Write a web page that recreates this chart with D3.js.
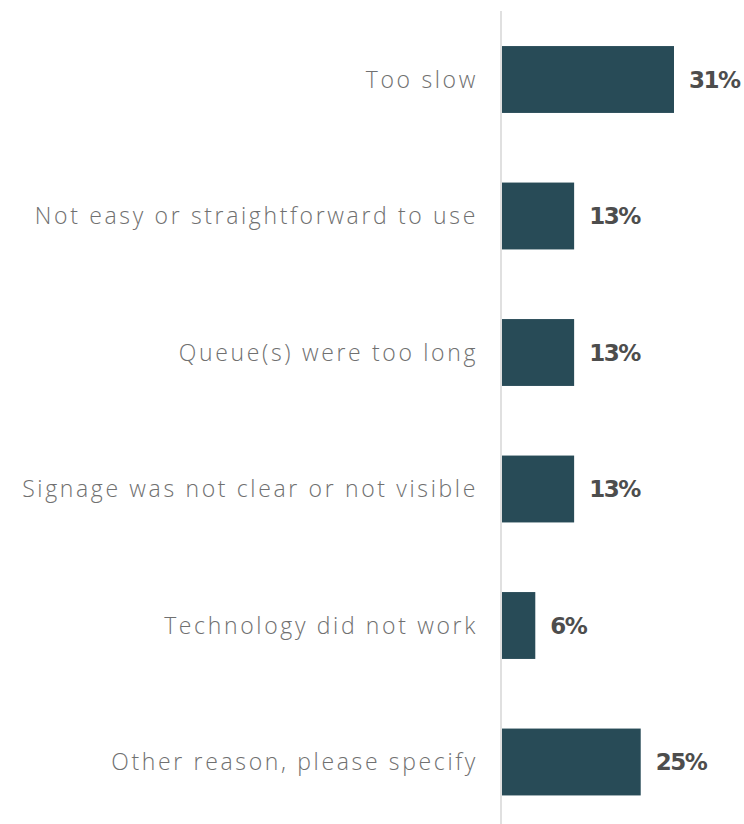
<!DOCTYPE html>
<html>
<head>
<meta charset="utf-8">
<script src="https://cdn.jsdelivr.net/npm/d3@7"></script>
<style>
  html, body { margin: 0; padding: 0; background: #fff; }
  svg { display: block; }
</style>
</head>
<body>
<div id="chart"></div>
<script>
// Reasons given, with the share of respondents (%)
const categories = [
  "Too slow",
  "Not easy or straightforward to use",
  "Queue(s) were too long",
  "Signage was not clear or not visible",
  "Technology did not work",
  "Other reason, please specify"
];
const values = [31, 13, 13, 13, 6, 25];
const valueLabels = ["31%", "13%", "13%", "13%", "6%", "25%"];

const width = 744, height = 824;
const axisX = 502;

const svg = d3.select("#chart").append("svg")
  .attr("width", width)
  .attr("height", height);

const y = d3.scaleBand()
  .domain(categories)
  .range([11.25, 11.25 + 136.5 * categories.length])
  .paddingInner(0.51)
  .paddingOuter(0.255);

const x = d3.scaleLinear()
  .domain([0, 31])
  .range([axisX, 674]);

// vertical baseline
svg.append("line")
  .attr("x1", axisX - 1).attr("x2", axisX - 1)
  .attr("y1", 11).attr("y2", height)
  .attr("stroke", "#e0e0e0")
  .attr("stroke-width", 2);

const rows = svg.selectAll("g.row")
  .data(categories.map((c, i) => ({ c, v: values[i], l: valueLabels[i] })))
  .join("g")
  .attr("class", "row");

rows.append("rect")
  .attr("x", x(0))
  .attr("y", d => y(d.c))
  .attr("width", d => x(d.v) - x(0))
  .attr("height", y.bandwidth())
  .attr("fill", "#284b57");

// category labels (letter-spacing leaves a trailing gap, hence the offset)
rows.append("text")
  .attr("x", axisX - 24)
  .attr("y", d => y(d.c) + y.bandwidth() / 2)
  .attr("dy", "0.36em")
  .attr("text-anchor", "end")
  .attr("font-family", "'Open Sans', sans-serif")
  .attr("font-weight", 300)
  .attr("font-size", 23)
  .attr("letter-spacing", 2.65)
  .attr("fill", "#707070")
  .text(d => d.c);

rows.append("text")
  .attr("x", d => x(d.v) + 15)
  .attr("y", d => y(d.c) + y.bandwidth() / 2)
  .attr("dy", "0.36em")
  .attr("font-family", "'DejaVu Sans', sans-serif")
  .attr("font-weight", 700)
  .attr("font-size", 23)
  .attr("letter-spacing", -1.5)
  .attr("fill", "#4d4d4d")
  .text(d => d.l);
</script>
</body>
</html>
